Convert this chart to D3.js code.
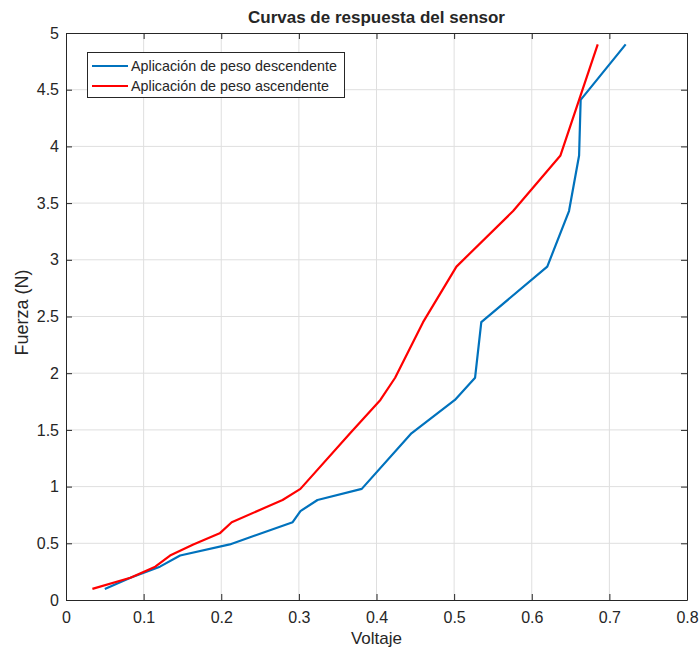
<!DOCTYPE html>
<html>
<head>
<meta charset="utf-8">
<script src="https://cdn.jsdelivr.net/npm/d3@7"></script>
<style>
  body { margin: 0; background: #fff; }
  svg text { font-family: "Liberation Sans", Arial, sans-serif; fill: #262626; }
</style>
</head>
<body>
<div id="chart"></div>
<script>
(function () {
  // descendente (azul)
  var voltDesc = [0.050, 0.083, 0.121, 0.147, 0.211, 0.292, 0.302, 0.324, 0.381, 0.445, 0.501, 0.527, 0.535, 0.620, 0.648, 0.661, 0.663, 0.721];
  var fuerzaDesc = [0.098, 0.196, 0.294, 0.392, 0.49, 0.686, 0.784, 0.882, 0.98, 1.47, 1.764, 1.96, 2.45, 2.94, 3.43, 3.92, 4.41, 4.9];
  // ascendente (rojo)
  var voltAsc = [0.034, 0.083, 0.115, 0.134, 0.164, 0.198, 0.2135, 0.279, 0.302, 0.366, 0.405, 0.424, 0.460, 0.503, 0.576, 0.637, 0.661, 0.685];
  var fuerzaAsc = [0.098, 0.196, 0.294, 0.392, 0.49, 0.588, 0.686, 0.882, 0.98, 1.47, 1.764, 1.96, 2.45, 2.94, 3.43, 3.92, 4.41, 4.9];

  var xTicks = [0, 0.1, 0.2, 0.3, 0.4, 0.5, 0.6, 0.7, 0.8];
  var yTicks = [0, 0.5, 1, 1.5, 2, 2.5, 3, 3.5, 4, 4.5, 5];
  var seriesNames = ["Aplicación de peso descendente", "Aplicación de peso ascendente"];
  var colors = ["#0072BD", "#FF0000"];

  var w = 700, h = 652;
  var left = 66, right = 687, top = 33, bottom = 600;

  var svg = d3.select("#chart").append("svg")
      .attr("width", w)
      .attr("height", h);

  var x = d3.scaleLinear().domain([0, 0.8]).range([left, right]);
  var y = d3.scaleLinear().domain([0, 5]).range([bottom, top]);

  // grid
  svg.append("g").selectAll("line").data(xTicks.slice(1, -1)).enter().append("line")
      .attr("x1", function(d) { return x(d); }).attr("x2", function(d) { return x(d); })
      .attr("y1", top).attr("y2", bottom)
      .attr("stroke", "#dfdfdf").attr("stroke-width", 1);
  svg.append("g").selectAll("line").data(yTicks.slice(1, -1)).enter().append("line")
      .attr("y1", function(d) { return y(d); }).attr("y2", function(d) { return y(d); })
      .attr("x1", left).attr("x2", right)
      .attr("stroke", "#dfdfdf").attr("stroke-width", 1);

  // axes
  var fmt = function(d) { return String(d); };
  svg.append("g").attr("transform", "translate(0," + bottom + ")")
      .call(d3.axisBottom(x).tickValues(xTicks).tickFormat(fmt).tickSizeInner(-6).tickSizeOuter(0).tickPadding(12));
  svg.append("g").attr("transform", "translate(0," + top + ")")
      .call(d3.axisTop(x).tickValues(xTicks).tickFormat("").tickSizeInner(-6).tickSizeOuter(0));
  svg.append("g").attr("transform", "translate(" + left + ",0)")
      .call(d3.axisLeft(y).tickValues(yTicks).tickFormat(fmt).tickSizeInner(-6).tickSizeOuter(0).tickPadding(7));
  svg.append("g").attr("transform", "translate(" + right + ",0)")
      .call(d3.axisRight(y).tickValues(yTicks).tickFormat("").tickSizeInner(-6).tickSizeOuter(0));

  svg.selectAll(".domain").attr("stroke", "#262626");
  svg.selectAll(".tick line").attr("stroke", "#262626");
  svg.selectAll(".tick text").attr("font-size", "16px").attr("fill", "#262626")
      .style("font-family", "'Liberation Sans', Arial, sans-serif");

  // lines
  var line = d3.line()
      .x(function(d) { return x(d[0]); })
      .y(function(d) { return y(d[1]); });

  var dataDesc = voltDesc.map(function(v, i) { return [v, fuerzaDesc[i]]; });
  var dataAsc = voltAsc.map(function(v, i) { return [v, fuerzaAsc[i]]; });

  svg.append("path").datum(dataDesc).attr("d", line)
      .attr("fill", "none").attr("stroke", colors[0]).attr("stroke-width", 2.2)
      .attr("stroke-linejoin", "round");
  svg.append("path").datum(dataAsc).attr("d", line)
      .attr("fill", "none").attr("stroke", colors[1]).attr("stroke-width", 2.2)
      .attr("stroke-linejoin", "round");

  // labels
  svg.append("text").text("Curvas de respuesta del sensor")
      .attr("x", (left + right) / 2).attr("y", 23)
      .attr("text-anchor", "middle").attr("font-size", "17px").attr("font-weight", "bold")
      .attr("fill", "#000");
  svg.append("text").text("Voltaje")
      .attr("x", (left + right) / 2).attr("y", 644)
      .attr("text-anchor", "middle").attr("font-size", "17px");
  svg.append("text").text("Fuerza (N)")
      .attr("transform", "translate(28," + ((top + bottom) / 2 - 4) + ") rotate(-90)")
      .attr("text-anchor", "middle").attr("font-size", "18px");

  // legend
  var lg = svg.append("g");
  lg.append("rect").attr("x", 87.5).attr("y", 52.5).attr("width", 257).attr("height", 45)
      .attr("fill", "#fff").attr("stroke", "#262626").attr("stroke-width", 1);
  seriesNames.forEach(function(name, i) {
    var yy = 66 + i * 20;
    lg.append("line").attr("x1", 92).attr("x2", 128).attr("y1", yy).attr("y2", yy)
        .attr("stroke", colors[i]).attr("stroke-width", 2.2);
    lg.append("text").text(name).attr("x", 131).attr("y", yy + 5)
        .attr("font-size", "14.3px").attr("fill", "#000");
  });
})();
</script>
</body>
</html>
